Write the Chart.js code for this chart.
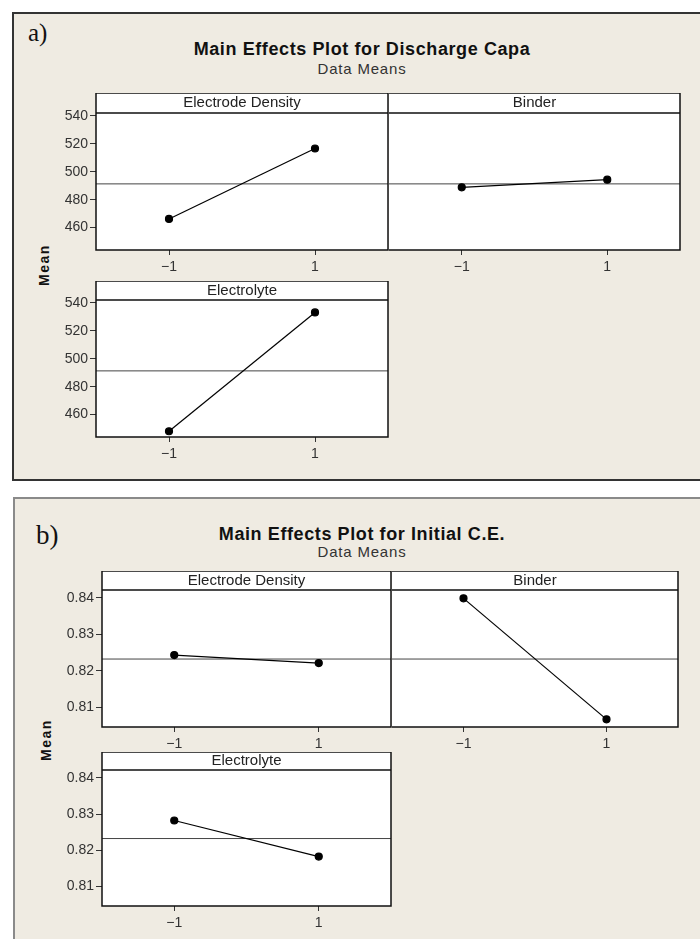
<!DOCTYPE html>
<html>
<head>
<meta charset="utf-8">
<script src="https://cdn.jsdelivr.net/npm/chart.js@4/dist/chart.umd.min.js"></script>
<style>
  body { margin: 0; background: #fff; width: 700px; height: 939px; overflow: hidden; position: relative; font-family: "Liberation Sans", Arial, sans-serif; }
  .panel { position: absolute; background: #efebe2; box-sizing: border-box; }
  .txt { position: absolute; white-space: nowrap; color: #111; }
  .center { width: 400px; text-align: center; }
  .tag { font-family: "Liberation Serif", "Times New Roman", serif; }
  .ylab { font-weight: bold; font-size: 14px; letter-spacing: 1.5px; transform: translate(-50%, -50%) rotate(-90deg); }
  canvas { position: absolute; }
</style>
</head>
<body>
<div class="panel" style="left:12px; top:12px; width:720px; height:469px; border:2px solid #333;"></div>
<div class="panel" style="left:13px; top:497px; width:720px; height:470px; border:2px solid #8a8a8a;"></div>

<div class="txt tag" style="left:28px; top:20px; font-size:25px; line-height:25px;">a)</div>
<div class="txt center" style="left:162px; top:40px; font-size:18px; line-height:18px; font-weight:bold; letter-spacing:0.6px;">Main Effects Plot for Discharge Capa</div>
<div class="txt center" style="left:162px; top:61px; font-size:15px; line-height:15px; letter-spacing:0.8px; color:#333;">Data Means</div>
<div class="txt ylab" style="left:44px; top:265px;">Mean</div>

<div class="txt tag" style="left:36px; top:522px; font-size:27px; line-height:27px;">b)</div>
<div class="txt center" style="left:162px; top:525px; font-size:18px; line-height:18px; font-weight:bold; letter-spacing:0.6px;">Main Effects Plot for Initial C.E.</div>
<div class="txt center" style="left:162px; top:544px; font-size:15px; line-height:15px; letter-spacing:0.8px; color:#333;">Data Means</div>
<div class="txt ylab" style="left:46px; top:740px;">Mean</div>

<script>
// factors and levels
const factors = ['Electrode Density', 'Binder', 'Electrolyte'];
const levels = [-1, 1];
const levelLabels = ['\u22121', '1'];

// a) discharge capacity means, one pair per factor
const capaElectrode = [466.2, 516.6];
const capaBinder = [488.8, 494.3];
const capaElectrolyte = [448.1, 533.1];
const capaGrandMean = 491.3;
const capaTicks = [460, 480, 500, 520, 540];

// b) initial coulombic efficiency means
const ceElectrode = [0.8243, 0.8221];
const ceBinder = [0.8399, 0.8066];
const ceElectrolyte = [0.8282, 0.8182];
const ceGrandMean = 0.8232;
const ceTicks = [0.81, 0.82, 0.83, 0.84];

// axis ranges
const xMin = -2, xMax = 2;
const capaRange = [444, 542];
const ceRange = [0.8045, 0.8422];

Chart.defaults.font.family = '"Liberation Sans", Arial, sans-serif';
Chart.defaults.color = '#333';

// white background + box around strip and plot area
const framePlugin = {
  id: 'frame',
  beforeDraw(chart, args, opts) {
    const { ctx, chartArea: a } = chart;
    ctx.save();
    ctx.fillStyle = '#fff';
    ctx.fillRect(a.left, a.top - opts.strip, a.right - a.left, a.bottom - a.top + opts.strip);
    ctx.restore();
  },
  afterDraw(chart, args, opts) {
    const { ctx, chartArea: a } = chart;
    const top = a.top - opts.strip;
    ctx.save();
    ctx.strokeStyle = '#111';
    ctx.lineWidth = 1.5;
    ctx.beginPath();
    // the panel to the right shares its left edge with the one beside it
    if (opts.shared) {
      ctx.moveTo(a.left, top);
      ctx.lineTo(a.right, top);
      ctx.lineTo(a.right, a.bottom);
      ctx.lineTo(a.left, a.bottom);
    } else {
      ctx.rect(a.left, top, a.right - a.left, a.bottom - top);
    }
    ctx.moveTo(a.left, a.top);
    ctx.lineTo(a.right, a.top);
    ctx.stroke();
    ctx.restore();
  }
};

function makeChart(box, name, means, grand, yTicks, yRange, showY) {
  const axW = showY ? 60 : 1;
  const axH = 32;
  const strip = box.s - box.t;
  const canvas = document.createElement('canvas');
  canvas.width = box.r - box.l + axW + 2;
  canvas.height = box.b - box.t + axH;
  canvas.style.left = (box.l - axW) + 'px';
  canvas.style.top = box.t + 'px';
  document.body.appendChild(canvas);

  return new Chart(canvas.getContext('2d'), {
    type: 'line',
    data: {
      datasets: [{
        data: levels.map((lv, i) => ({ x: lv, y: means[i] })),
        borderColor: '#000',
        borderWidth: 1.2,
        pointRadius: 3.5,
        pointBackgroundColor: '#000',
        pointBorderColor: '#000'
      }, {
        data: [{ x: xMin, y: grand }, { x: xMax, y: grand }],
        borderColor: '#444',
        borderWidth: 1,
        pointRadius: 0
      }]
    },
    options: {
      responsive: false,
      animation: false,
      devicePixelRatio: 1,
      layout: { autoPadding: false, padding: { left: showY ? 0 : 1, right: 2, top: 0, bottom: 0 } },
      plugins: {
        legend: { display: false },
        tooltip: { enabled: false },
        title: {
          display: true,
          text: name,
          fullSize: false,
          color: '#222',
          font: { size: 15, weight: 'normal', lineHeight: 1 },
          padding: { top: (strip - 15) / 2, bottom: (strip - 15) / 2 }
        },
        frame: { strip: strip, shared: !showY }
      },
      scales: {
        x: {
          type: 'linear',
          min: xMin,
          max: xMax,
          afterBuildTicks: s => { s.ticks = levels.map(v => ({ value: v })); },
          afterFit: s => { s.height = axH; },
          ticks: {
            padding: 4,
            color: '#333',
            font: { size: 14 },
            callback: v => levelLabels[levels.indexOf(v)]
          },
          grid: { drawOnChartArea: false, drawTicks: true, tickLength: 5, color: '#333' },
          border: { display: false }
        },
        y: {
          display: showY,
          min: yRange[0],
          max: yRange[1],
          afterBuildTicks: s => { s.ticks = yTicks.map(v => ({ value: v })); },
          afterFit: s => { s.width = axW; },
          ticks: { padding: 2, color: '#333', font: { size: 14 } },
          grid: { drawOnChartArea: false, drawTicks: true, tickLength: 6, color: '#333' },
          border: { display: false }
        }
      }
    },
    plugins: [framePlugin]
  });
}

// a) Discharge capacity
makeChart({ l: 96, r: 388, t: 93, s: 113, b: 250 }, factors[0], capaElectrode, capaGrandMean, capaTicks, capaRange, true);
makeChart({ l: 388, r: 680, t: 93, s: 113, b: 250 }, factors[1], capaBinder, capaGrandMean, capaTicks, capaRange, false);
makeChart({ l: 96, r: 388, t: 281, s: 300, b: 437 }, factors[2], capaElectrolyte, capaGrandMean, capaTicks, capaRange, true);

// b) Initial C.E.
makeChart({ l: 102, r: 391, t: 571, s: 590, b: 727 }, factors[0], ceElectrode, ceGrandMean, ceTicks, ceRange, true);
makeChart({ l: 391, r: 678, t: 571, s: 590, b: 727 }, factors[1], ceBinder, ceGrandMean, ceTicks, ceRange, false);
makeChart({ l: 102, r: 391, t: 752, s: 770, b: 906 }, factors[2], ceElectrolyte, ceGrandMean, ceTicks, ceRange, true);
</script>
</body>
</html>
